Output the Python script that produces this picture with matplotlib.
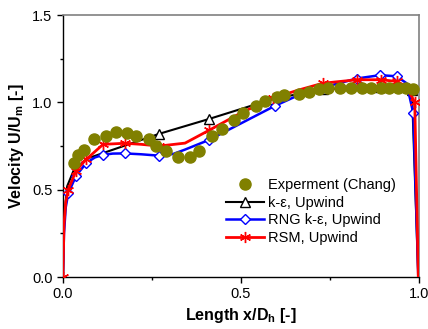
import numpy as np
import matplotlib
matplotlib.use("Agg")
import matplotlib.pyplot as plt
from matplotlib.ticker import MultipleLocator, FormatStrFormatter

plt.rcParams['font.family'] = ['Liberation Sans', 'DejaVu Sans']
plt.rcParams['mathtext.default'] = 'regular'

# experimental data (Chang)
exp_x = [0.032, 0.043, 0.060, 0.088, 0.120, 0.149, 0.179, 0.205, 0.242, 0.261,
         0.289, 0.324, 0.356, 0.383, 0.418, 0.446, 0.480, 0.506, 0.542, 0.567,
         0.600, 0.620, 0.663, 0.690, 0.720, 0.745, 0.778, 0.810, 0.840, 0.865,
         0.893, 0.916, 0.940, 0.963, 0.983]
exp_y = [0.654, 0.700, 0.730, 0.790, 0.810, 0.830, 0.826, 0.810, 0.790, 0.750,
         0.720, 0.690, 0.690, 0.720, 0.807, 0.850, 0.900, 0.940, 0.980, 1.010,
         1.030, 1.040, 1.050, 1.060, 1.075, 1.080, 1.080, 1.085, 1.085, 1.085,
         1.085, 1.085, 1.080, 1.080, 1.075]

# k-epsilon, upwind
ke_x = [0.0, 0.004, 0.012, 0.030, 0.070, 0.270, 0.410, 0.590, 0.730, 0.890, 0.980, 0.998]
ke_y = [0.0, 0.35, 0.52, 0.61, 0.68, 0.82, 0.905, 1.02, 1.075, 1.09, 1.07, 0.0]
ke_marks = [5, 6, 7, 8, 9, 10]

# RNG k-epsilon, upwind
rng_x = [0.0, 0.003, 0.008, 0.015, 0.037, 0.066, 0.090, 0.113, 0.140, 0.174, 0.220,
         0.270, 0.310, 0.343, 0.410, 0.500, 0.595, 0.660, 0.730, 0.825, 0.890,
         0.937, 0.965, 0.984, 0.998]
rng_y = [0.0, 0.25, 0.40, 0.48, 0.58, 0.654, 0.685, 0.70, 0.707, 0.708, 0.703,
         0.695, 0.705, 0.73, 0.785, 0.88, 0.98, 1.04, 1.085, 1.137, 1.156,
         1.15, 1.11, 0.937, 0.0]
rng_marks = [3, 4, 5, 7, 9, 11, 14, 16, 18, 19, 20, 21, 23]

# RSM, upwind
rsm_x = [0.0, 0.003, 0.008, 0.015, 0.037, 0.066, 0.113, 0.174, 0.220, 0.270, 0.343,
         0.410, 0.500, 0.590, 0.660, 0.730, 0.826, 0.893, 0.938, 0.965, 0.988, 0.998]
rsm_y = [0.0, 0.30, 0.43, 0.50, 0.61, 0.675, 0.76, 0.766, 0.76, 0.75, 0.767,
         0.84, 0.94, 1.025, 1.07, 1.11, 1.13, 1.13, 1.12, 1.09, 1.0, 0.0]
rsm_marks = [0, 3, 4, 5, 6, 7, 9, 11, 13, 15, 16, 17, 18, 20]

fig = plt.figure(figsize=(4.28, 3.29), dpi=100)
ax = fig.add_axes([0.147, 0.158, 0.832, 0.796])

ax.plot(ke_x, ke_y, color='black', lw=1.5, marker='^', markevery=ke_marks,
        ms=7, mfc='white', mec='black', mew=1.0, label='k-ε, Upwind', zorder=3)
ax.plot(rng_x, rng_y, color='#0000ff', lw=1.8, marker='D', markevery=rng_marks,
        ms=5.5, mfc='white', mec='#0000ff', mew=1.0, label='RNG k-ε, Upwind', zorder=4)
ax.plot(rsm_x, rsm_y, color='#ff0000', lw=2.0, marker=(6, 2, 0), markevery=rsm_marks,
        ms=8, mec='#ff0000', mew=1.0, label='RSM, Upwind', zorder=5)
ax.plot(exp_x, exp_y, linestyle='none', marker='o', ms=8, color='#808000',
        mec='#808000', label='Experment (Chang)', zorder=6)

ax.set_xlim(0, 1.0)
ax.set_ylim(0, 1.5)
ax.xaxis.set_major_locator(MultipleLocator(0.5))
ax.xaxis.set_minor_locator(MultipleLocator(0.25))
ax.yaxis.set_major_locator(MultipleLocator(0.5))
ax.yaxis.set_minor_locator(MultipleLocator(0.25))
ax.tick_params(which='major', direction='out', length=4, width=1, labelsize=10.5)
ax.tick_params(which='minor', direction='out', length=2.5, width=1)
ax.xaxis.set_major_formatter(FormatStrFormatter('%.1f'))
ax.yaxis.set_major_formatter(FormatStrFormatter('%.1f'))

for s in ['top', 'right']:
    ax.spines[s].set_color('#808080')
    ax.spines[s].set_linewidth(1.2)
for s in ['left', 'bottom']:
    ax.spines[s].set_linewidth(1.0)

ax.set_xlabel('Length x/D$_h$ [-]', fontsize=11.5, fontweight='bold', labelpad=3)
ax.set_ylabel('Velocity U/U$_m$ [-]', fontsize=11.5, fontweight='bold', labelpad=4)

handles, labels = ax.get_legend_handles_labels()
order = [3, 0, 1, 2]
ax.legend([handles[i] for i in order], [labels[i] for i in order],
          loc='upper left', bbox_to_anchor=(0.458, 0.378), frameon=False,
          fontsize=10.5, handlelength=2.6, handletextpad=0.3, labelspacing=0.25,
          borderpad=0, borderaxespad=0, numpoints=1)

fig.savefig('out.png', dpi=100)
